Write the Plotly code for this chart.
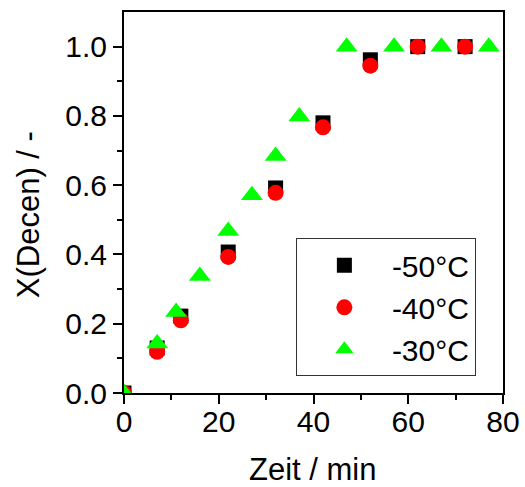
import plotly.graph_objects as go

# data
t_50 = [0, 7, 12, 22, 32, 42, 52, 62, 72]
x_50 = [0, 0.13, 0.222, 0.407, 0.592, 0.780, 0.962, 1.0, 1.0]
t_40 = [0, 7, 12, 22, 32, 42, 52, 62, 72]
x_40 = [0, 0.119, 0.210, 0.393, 0.578, 0.767, 0.945, 1.0, 1.0]
t_30 = [0, 7, 11, 16, 22, 27, 32, 37, 47, 57, 67, 77]
x_30 = [0, 0.143, 0.234, 0.338, 0.468, 0.571, 0.684, 0.798, 1.0, 1.0, 1.0, 1.0]
series_names = ["-50°C", "-40°C", "-30°C"]
x_ticks = [0, 20, 40, 60, 80]
x_minor = [10, 30, 50, 70]
y_ticks = [0, 0.2, 0.4, 0.6, 0.8, 1.0]
y_minor = [0.1, 0.3, 0.5, 0.7, 0.9]

FONT = "Liberation Sans, Arial, sans-serif"

fig = go.Figure()
fig.add_trace(go.Scatter(x=t_50, y=x_50, mode="markers", name=series_names[0],
                         marker=dict(symbol="square", size=15, color="black")))
fig.add_trace(go.Scatter(x=t_40, y=x_40, mode="markers", name=series_names[1],
                         marker=dict(symbol="circle", size=16, color="#ff0000")))
fig.add_trace(go.Scatter(x=t_30, y=x_30, mode="markers", name=series_names[2],
                         marker=dict(symbol="triangle-up", size=19, color="#00ff00")))

axis_common = dict(
    showline=True, linecolor="black", linewidth=2, mirror=True,
    ticks="outside", tickcolor="black", tickwidth=2, ticklen=9,
    showgrid=False, zeroline=False, automargin=False,
    tickfont=dict(family=FONT, size=30, color="black"),
)

fig.update_xaxes(range=[0, 80], tickmode="array", tickvals=x_ticks,
                 ticklabelstandoff=-8,
                 minor=dict(ticks="outside", tickvals=x_minor, ticklen=5,
                            tickcolor="black", tickwidth=2),
                 **axis_common)
fig.update_yaxes(range=[0, 1.1], tickmode="array", tickvals=y_ticks,
                 tickformat=".1f",
                 minor=dict(ticks="outside", tickvals=y_minor, ticklen=5,
                            tickcolor="black", tickwidth=2),
                 **axis_common)

fig.add_annotation(text="Zeit / min", xref="paper", yref="paper", x=0.498, y=-0.200,
                   xanchor="center", yanchor="middle", showarrow=False,
                   font=dict(family=FONT, size=31, color="black"))
fig.add_annotation(text="X(Decen) / -", xref="paper", yref="paper", x=-0.253, y=0.467,
                   xanchor="center", yanchor="middle", showarrow=False, textangle=-90,
                   font=dict(family=FONT, size=31, color="black"))

fig.update_layout(
    template="none",
    width=525, height=487,
    margin=dict(l=124, r=22, t=12, b=94, pad=0),
    paper_bgcolor="white", plot_bgcolor="white",
    font=dict(family=FONT, size=30, color="black"),
    legend=dict(x=0.4535, y=0.406, xanchor="left", yanchor="top",
                bordercolor="#333333", borderwidth=1, bgcolor="white",
                font=dict(family=FONT, size=30, color="black"),
                itemwidth=85, tracegroupgap=0),
    showlegend=True,
)

fig.write_html("out.html")
